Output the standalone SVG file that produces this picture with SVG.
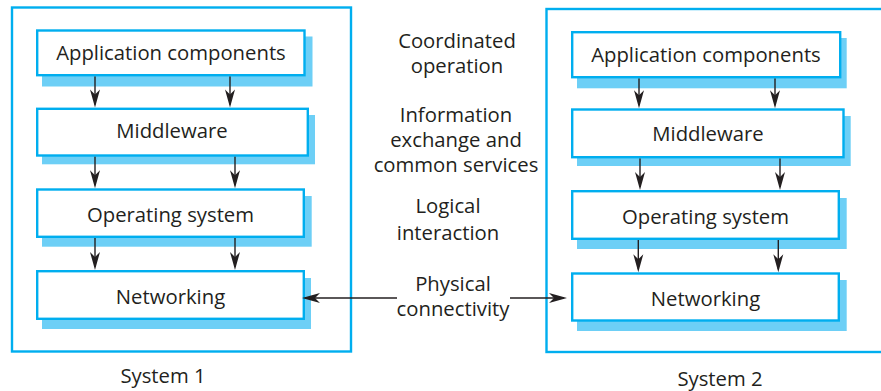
<svg xmlns="http://www.w3.org/2000/svg" width="881" height="391" viewBox="0 0 881 391">
<defs>
<style>
.outer{fill:none;stroke:#00aeef;stroke-width:2.4}
.box{fill:#ffffff;stroke:#00aeef;stroke-width:2.4}
.shadow{fill:#6dcff6;stroke:none}
.t{font-family:"Open Sans","Noto Sans","DejaVu Sans",sans-serif;font-size:20.3px;fill:#231f20;text-anchor:middle}
.c{stroke:#231f20;stroke-width:1.4;fill:none;marker-end:url(#ah)}
</style>
<marker id="ah" viewBox="-19 -6 20 12" refX="-3" refY="0" markerWidth="20" markerHeight="12" markerUnits="userSpaceOnUse" orient="auto">
<path d="M0,0 L-18,-5 L-13,0 L-18,5 Z" fill="#231f20"/>
</marker>
</defs>
<rect class="outer" x="12" y="7.5" width="339" height="344"/>
<rect class="outer" x="546.5" y="9" width="340" height="343"/>

<g id="s1-app">
<rect class="shadow" x="42" y="36.5" width="270.5" height="50"/>
<rect class="box" x="37.2" y="30.5" width="267.3" height="44.7"/>
<text class="t" x="171" y="60">Application components</text>
</g>
<g id="s1-mid">
<rect class="shadow" x="42" y="115" width="273" height="49.3"/>
<rect class="box" x="37.2" y="108.8" width="270.6" height="46.7"/>
<text class="t" x="172" y="138">Middleware</text>
</g>
<g id="s1-os">
<rect class="shadow" x="42" y="196" width="269.7" height="50.7"/>
<rect class="box" x="37.2" y="189.5" width="266.6" height="47.3"/>
<text class="t" x="170.5" y="222">Operating system</text>
</g>
<g id="s1-net">
<rect class="shadow" x="42" y="278" width="269" height="51"/>
<rect class="box" x="37.2" y="271.2" width="266.6" height="47.6"/>
<text class="t" x="170.5" y="304">Networking</text>
</g>

<g id="s2-app">
<rect class="shadow" x="577" y="38" width="269.7" height="50.3"/>
<rect class="box" x="572.2" y="32.2" width="268" height="45"/>
<text class="t" x="706" y="62">Application components</text>
</g>
<g id="s2-mid">
<rect class="shadow" x="577" y="116" width="273.7" height="50"/>
<rect class="box" x="572.2" y="109.5" width="271.3" height="47.7"/>
<text class="t" x="708" y="141">Middleware</text>
</g>
<g id="s2-os">
<rect class="shadow" x="577" y="198" width="269.7" height="51"/>
<rect class="box" x="572.2" y="191.2" width="266.6" height="47.6"/>
<text class="t" x="705.5" y="224">Operating system</text>
</g>
<g id="s2-net">
<rect class="shadow" x="577" y="280" width="269.7" height="51"/>
<rect class="box" x="572.2" y="273.5" width="266.6" height="47"/>
<text class="t" x="705.5" y="306">Networking</text>
</g>

<g id="labels">
<text class="t" x="163" y="383">System 1</text>
<text class="t" x="720" y="386">System 2</text>
<text class="t" x="457" y="48">Coordinated</text>
<text class="t" x="457" y="73">operation</text>
<text class="t" x="456" y="122">Information</text>
<text class="t" x="456" y="147">exchange and</text>
<text class="t" x="456" y="172">common services</text>
<text class="t" x="448" y="213">Logical</text>
<text class="t" x="448" y="240">interaction</text>
<text class="t" x="453" y="291">Physical</text>
<text class="t" x="453" y="316">connectivity</text>
</g>

<g id="connectors">
<line class="c" x1="95" y1="76.4" x2="95" y2="104.6"/>
<line class="c" x1="230" y1="76.4" x2="230" y2="104.6"/>
<line class="c" x1="95" y1="156.7" x2="95" y2="185.3"/>
<line class="c" x1="235" y1="156.7" x2="235" y2="185.3"/>
<line class="c" x1="95" y1="238" x2="95" y2="267"/>
<line class="c" x1="235" y1="238" x2="235" y2="267"/>

<line class="c" x1="639" y1="78.4" x2="639" y2="105.3"/>
<line class="c" x1="775" y1="78.4" x2="775" y2="105.3"/>
<line class="c" x1="640" y1="158.4" x2="640" y2="187"/>
<line class="c" x1="780" y1="158.4" x2="780" y2="187"/>
<line class="c" x1="638.3" y1="240" x2="638.3" y2="269.3"/>
<line class="c" x1="778.3" y1="240" x2="778.3" y2="269.3"/>

<line class="c" x1="397" y1="298" x2="305" y2="298"/>
<line class="c" x1="510" y1="298" x2="564" y2="298"/>
</g>
</svg>
